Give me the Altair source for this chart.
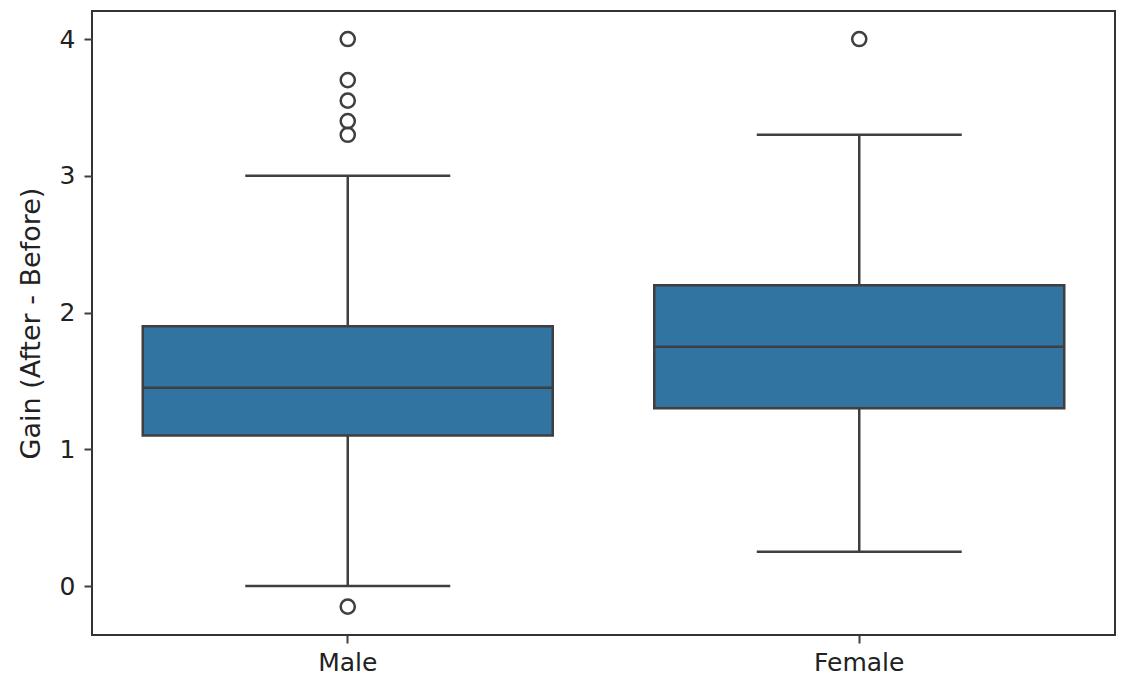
import altair as alt
import pandas as pd

groups = ["Male", "Female"]
q1 = [1.10, 1.30]
median = [1.45, 1.75]
q3 = [1.90, 2.20]
whisker_low = [0.00, 0.25]
whisker_high = [3.00, 3.30]

outlier_group = ["Male", "Male", "Male", "Male", "Male", "Male", "Female"]
outlier_value = [4.00, 3.70, 3.55, 3.40, 3.30, -0.15, 4.00]

box_df = pd.DataFrame({
    "group": groups, "q1": q1, "median": median, "q3": q3,
    "lo": whisker_low, "hi": whisker_high,
})
out_df = pd.DataFrame({"group": outlier_group, "value": outlier_value})

LINE = "#3f3f3f"
FILL = "#3274a1"
FONT = "DejaVu Sans"
TXT = "#222222"

xenc = alt.X("group:N", sort=groups,
             scale=alt.Scale(paddingInner=0, paddingOuter=0),
             axis=alt.Axis(title=None, labelAngle=0, labelFontSize=25, labelFont=FONT,
                           labelColor=TXT, tickColor=LINE, tickSize=8, tickWidth=2,
                           domain=False, labelPadding=7))
yscale = alt.Scale(domain=[-0.358, 4.205], nice=False, zero=False)
yaxis = alt.Axis(title="Gain (After - Before)", values=[0, 1, 2, 3, 4], grid=False,
                 labelFontSize=25, labelFont=FONT, labelColor=TXT,
                 titleFontSize=27, titleFont=FONT, titleFontWeight="normal",
                 titleColor=TXT, tickColor=LINE, tickSize=8, tickWidth=2,
                 domain=False, labelPadding=9, titlePadding=14)

base = alt.Chart(box_df)

whisk_up = base.mark_rule(color=LINE, strokeWidth=2.5).encode(
    x=xenc, y=alt.Y("q3:Q", scale=yscale, axis=yaxis), y2="hi:Q")
whisk_dn = base.mark_rule(color=LINE, strokeWidth=2.5).encode(
    x=xenc, y=alt.Y("lo:Q", scale=yscale, axis=yaxis), y2="q1:Q")
cap_hi = base.mark_tick(color=LINE, size=205, thickness=2.5, opacity=1).encode(
    x=xenc, y=alt.Y("hi:Q", scale=yscale, axis=yaxis))
cap_lo = base.mark_tick(color=LINE, size=205, thickness=2.5, opacity=1).encode(
    x=xenc, y=alt.Y("lo:Q", scale=yscale, axis=yaxis))
box = base.mark_bar(size=410, color=FILL, stroke=LINE, strokeWidth=2.5, opacity=1).encode(
    x=xenc, y=alt.Y("q1:Q", scale=yscale, axis=yaxis), y2="q3:Q")
med = base.mark_tick(color=LINE, size=410, thickness=2.5, opacity=1).encode(
    x=xenc, y=alt.Y("median:Q", scale=yscale, axis=yaxis))
pts = alt.Chart(out_df).mark_point(shape="circle", filled=False, size=200,
                                   color=LINE, strokeWidth=2.5, opacity=1).encode(
    x=xenc, y=alt.Y("value:Q", scale=yscale, axis=yaxis))

chart = alt.layer(whisk_up, whisk_dn, cap_hi, cap_lo, box, med, pts).properties(
    width=1023, height=624,
    autosize=alt.AutoSizeParams(type="none"),
    padding={"left": 84, "top": 3, "right": 12, "bottom": 50},
    background="white",
).configure_view(stroke="#333333", strokeWidth=2)

chart.save("out.html", embed_options={"renderer": "svg", "actions": False})
